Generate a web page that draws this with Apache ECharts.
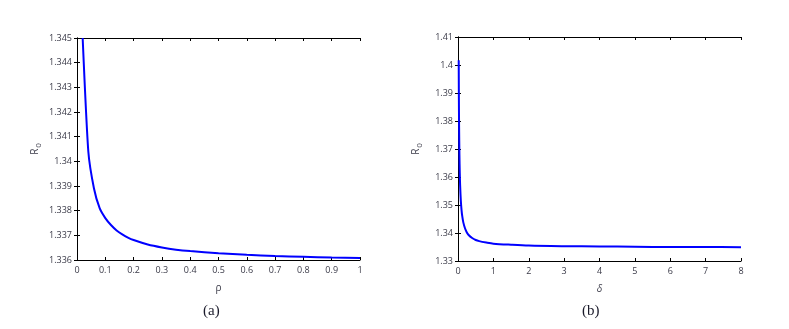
<!DOCTYPE html>
<html>
<head>
<meta charset="utf-8">
<script src="https://cdn.jsdelivr.net/npm/echarts@6/dist/echarts.min.js"></script>
<style>
  html, body { margin: 0; padding: 0; background: #fff; }
  #chart { width: 789px; height: 329px; }
</style>
</head>
<body>
<div id="chart"></div>
<script>
// panel (a): R0 vs rho
var rhoVals = [0.02, 0.04, 0.06, 0.08, 0.10, 0.12, 0.14, 0.16, 0.18, 0.20, 0.25, 0.30, 0.35, 0.40, 0.50, 0.60, 0.70, 0.80, 0.90, 1.00];
var r0Rho   = [1.3450, 1.3404, 1.3389, 1.3381, 1.33770, 1.33742, 1.33720, 1.33704, 1.33691, 1.33681, 1.33663, 1.33651, 1.33642, 1.33636, 1.33627, 1.33621, 1.33616, 1.33613, 1.33610, 1.33608];

// panel (b): R0 vs delta
var deltaVals = [0.02, 0.025, 0.03, 0.04, 0.05, 0.06, 0.08, 0.10, 0.12, 0.15, 0.20, 0.25, 0.30, 0.40, 0.50, 0.60, 0.80, 1.0, 1.5, 2, 3, 4, 5, 6, 7, 8];
var r0Delta   = [1.4017, 1.3880, 1.3790, 1.3680, 1.3615, 1.3570, 1.3515, 1.3482, 1.3460, 1.3438, 1.3416, 1.3402, 1.3393, 1.3382, 1.3375, 1.3371, 1.3366, 1.3362, 1.3358, 1.3355, 1.3353, 1.3352, 1.3351, 1.3350, 1.3350, 1.3349];

var panelTitles = ['(a)', '(b)'];
var xNames = ['ρ', 'δ'];

function pairs(xs, ys) {
    var out = [];
    for (let i = 0; i < xs.length; i++) out.push([xs[i], ys[i]]);
    return out;
}

var labelStyle = { fontSize: 9, color: '#3a3a48', fontFamily: 'Open Sans' };
var tickStyle = { inside: true, length: 3, lineStyle: { color: '#000' } };
var lineStyle = { lineStyle: { color: '#000', width: 1 } };

function xAxisFor(grid, max, interval, name, italic) {
    return [{
        gridIndex: grid, type: 'value', min: 0, max: max, interval: interval,
        position: 'bottom',
        name: name, nameLocation: 'middle', nameGap: 23,
        nameTextStyle: { fontSize: 10, color: '#3a3a48', fontStyle: italic ? 'italic' : 'normal', fontFamily: 'Open Sans' },
        axisLine: lineStyle, axisTick: tickStyle, axisLabel: Object.assign({ margin: 6 }, labelStyle),
        splitLine: { show: false }
    }, {
        gridIndex: grid, type: 'value', min: 0, max: max, interval: interval,
        position: 'top',
        axisLine: lineStyle, axisTick: tickStyle, axisLabel: { show: false },
        splitLine: { show: false }
    }];
}

function yAxisFor(grid, min, max, interval) {
    return [{
        gridIndex: grid, type: 'value', min: min, max: max, interval: interval,
        position: 'left',
        name: '{r|R}{s|0}', nameLocation: 'middle', nameGap: 34, nameRotate: 90,
        nameTextStyle: {
            color: '#3a3a48', fontFamily: 'Open Sans',
            rich: {
                r: { fontSize: 10, color: '#3a3a48', fontFamily: 'Open Sans' },
                s: { fontSize: 8, color: '#3a3a48', fontFamily: 'Open Sans', padding: [8, 0, 0, 1] }
            }
        },
        axisLine: lineStyle, axisTick: tickStyle, axisLabel: Object.assign({ margin: 5 }, labelStyle),
        splitLine: { show: false }
    }, {
        gridIndex: grid, type: 'value', min: min, max: max, interval: interval,
        position: 'right',
        axisLine: lineStyle, axisTick: tickStyle, axisLabel: { show: false },
        splitLine: { show: false }
    }];
}

var chart = echarts.init(document.getElementById('chart'));
chart.setOption({
    animation: false,
    backgroundColor: '#fff',
    title: [
        { text: panelTitles[0], left: 198, top: 299, textStyle: { fontSize: 15, fontWeight: 'normal', color: '#1a1a2a', fontFamily: 'Liberation Serif' } },
        { text: panelTitles[1], left: 577, top: 299, textStyle: { fontSize: 15, fontWeight: 'normal', color: '#1a1a2a', fontFamily: 'Liberation Serif' } }
    ],
    grid: [
        { left: 77, top: 38, width: 283, height: 222 },
        { left: 458, top: 37, width: 283, height: 224 }
    ],
    xAxis: xAxisFor(0, 1, 0.1, xNames[0], false).concat(xAxisFor(1, 8, 1, xNames[1], true)),
    yAxis: yAxisFor(0, 1.336, 1.345, 0.001).concat(yAxisFor(1, 1.33, 1.41, 0.01)),
    series: [
        {
            type: 'line', xAxisIndex: 0, yAxisIndex: 0,
            data: pairs(rhoVals, r0Rho),
            showSymbol: false, smooth: 0.2,
            lineStyle: { color: '#0000ff', width: 2 }
        },
        {
            type: 'line', xAxisIndex: 2, yAxisIndex: 2,
            data: pairs(deltaVals, r0Delta),
            showSymbol: false, smooth: 0.3,
            lineStyle: { color: '#0000ff', width: 2 }
        }
    ]
});
</script>
</body>
</html>
